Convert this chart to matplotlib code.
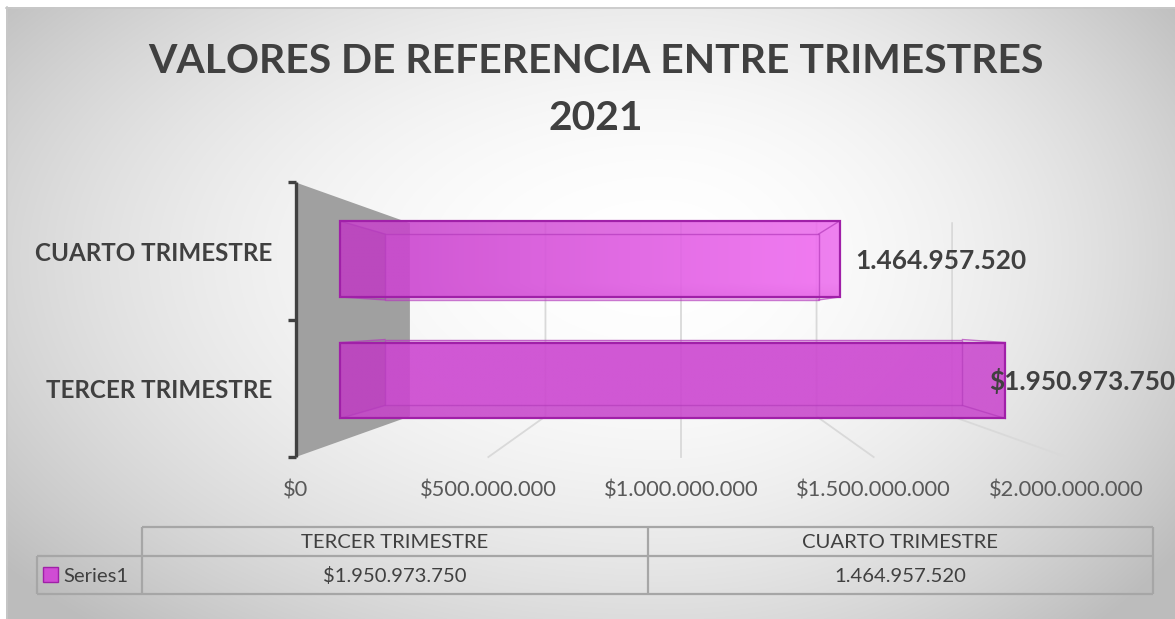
import numpy as np
import matplotlib
matplotlib.use("Agg")
import matplotlib.pyplot as plt
from matplotlib.patches import Polygon, Rectangle
from matplotlib.colors import to_rgb

# ---------------- data ----------------
categories = ["TERCER TRIMESTRE", "CUARTO TRIMESTRE"]
values = [1950973750, 1464957520]
value_labels = ["$1.950.973.750", "1.464.957.520"]
tick_values = [0, 500000000, 1000000000, 1500000000, 2000000000]
tick_labels = ["$0", "$500.000.000", "$1.000.000.000", "$1.500.000.000", "$2.000.000.000"]
title_lines = ["VALORES DE REFERENCIA ENTRE TRIMESTRES", "2021"]
series_name = "Series1"

# ---------------- style / layout ----------------
W, H, DPI = 1175, 619, 100
FONT = ["Lato", "DejaVu Sans"]
DARK = "#404040"
MID = "#595959"
plt.rcParams["font.family"] = FONT

fig = plt.figure(figsize=(W / DPI, H / DPI), dpi=DPI)

# background axes in pixel coordinates (y down)
bg = fig.add_axes([0, 0, 1, 1], zorder=0)
bg.set_axis_off()
yy, xx = np.mgrid[0:H, 0:W] + 0.5
cx, cy = 660, 255
rx = np.where(xx < cx, 780, 600)
ry = np.where(yy < cy, 420, 470)
d2 = ((xx - cx) / rx) ** 2 + ((yy - cy) / ry) ** 2
g = (255 - 58 * np.clip(d2, 0, 1.15)) / 255
img = np.dstack([g, g, g])
img[:7, :, :] = 1
img[:, :6, :] = 1
bg.imshow(img, extent=(0, W, H, 0), aspect="auto", interpolation="bilinear")
bg.plot([6, W], [7.5, 7.5], color="#c8c8c8", lw=1.2)
bg.plot([6.5, 6.5], [7, H], color="#c8c8c8", lw=1.2)

# main axes: x in dollars, y in category units, mapped to match the picture
ax = fig.add_axes([0, 0, 1, 1], zorder=1)
ax.set_axis_off()
ax.patch.set_visible(False)
X0_PX, X_SCALE = 340.0, 341e-9
Y0_PX, Y_SCALE = 380.5, 121.5
XLIM = (-X0_PX / X_SCALE, (W - X0_PX) / X_SCALE)
YLIM = ((Y0_PX - H) / Y_SCALE, Y0_PX / Y_SCALE)

# simple perspective: depth factor k scales toward a vanishing point
CX, CY = 1e9, 0.5
K_FLOOR, K_FRONT, K_BACK, K_WALL = 1.13, 1.0, 0.868, 0.795
HALF = 0.3125
ylo, yhi = -0.5, len(categories) - 0.5


def proj(v, y, k):
    return (CX + (v - CX) * k, CY + (y - CY) * k)


# side wall
wall = [proj(0, ylo, K_FLOOR), proj(0, yhi, K_FLOOR), proj(0, yhi, K_WALL), proj(0, ylo, K_WALL)]
ax.add_patch(Polygon(wall, closed=True, fc="#a0a0a0", ec="none", zorder=2))

# gridlines on back wall + floor
for t in tick_values[1:]:
    xb, yb0 = proj(t, ylo, K_WALL)
    _, yb1 = proj(t, yhi, K_WALL)
    xf, yf = proj(t, ylo, K_FLOOR)
    ax.plot([xb, xb, xf], [yb1, yb0, yf], color="#d9d9d9", lw=1.3, zorder=3)

# bars
base = np.array(to_rgb("#cc46d0"))
light = np.array(to_rgb("#f472f4"))
EDGE = "#a020a8"
for i, v in enumerate(values):
    y0, y1 = i - HALF, i + HALF
    F = [proj(0, y0, K_FRONT), proj(v, y0, K_FRONT), proj(v, y1, K_FRONT), proj(0, y1, K_FRONT)]
    B = [proj(0, y0, K_BACK), proj(v, y0, K_BACK), proj(v, y1, K_BACK), proj(0, y1, K_BACK)]
    # back face
    ax.add_patch(Polygon(B, closed=True, fc="#d050d4", ec="none", alpha=0.35, zorder=4))
    # front face with gradient
    xs = np.linspace(0, v, 200)
    ys = np.linspace(y0, y1, 40)
    wx = np.clip((xs - 0.2e9) / 1.3e9, 0, 1)
    wy = np.clip((ys - 0.3) / 0.5, 0, 1)
    w = wy[:, None] * wx[None, :]
    grad = base[None, None, :] + (light - base)[None, None, :] * w[:, :, None]
    ax.imshow(grad, extent=(0, v, y0, y1), origin="lower", aspect="auto",
              alpha=0.85, zorder=5, interpolation="bilinear")
    # side faces (shading)
    faces = {
        "left": ([F[0], F[3], B[3], B[0]], 0.16),
        "bottom": ([F[0], F[1], B[1], B[0]], 0.06),
        "top": ([F[3], F[2], B[2], B[3]], 0.04),
        "right": ([F[1], F[2], B[2], B[1]], 0.04),
    }
    for pts, a in faces.values():
        ax.add_patch(Polygon(pts, closed=True, fc="#8a108f", ec="none", alpha=a, zorder=6))
    # edges
    ax.add_patch(Polygon(B, closed=True, fc="none", ec="#b43cbc", lw=1.0, alpha=0.7, zorder=7))
    for p, q in zip(F, B):
        ax.plot([p[0], q[0]], [p[1], q[1]], color="#b43cbc", lw=1.0, alpha=0.7, zorder=7)
    ax.add_patch(Polygon(F, closed=True, fc="none", ec=EDGE, lw=1.6, zorder=8))

# vertical axis line with ticks
xa, ya0 = proj(0, ylo, K_FLOOR)
_, ya1 = proj(0, yhi, K_FLOOR)
ax.plot([xa, xa], [ya0, ya1], color=DARK, lw=2.4, solid_capstyle="butt", zorder=9)
tick_ys = [proj(0, b, K_FLOOR)[1] for b in np.arange(ylo, yhi + 0.01, 1.0)]
ax.plot([xa] * len(tick_ys), tick_ys, ls="none", marker=0, ms=6, mew=2.4,
        color=DARK, zorder=9)

# category labels
cat_texts = []
for i, c in enumerate(categories):
    p = proj(0, i, K_FLOOR)
    t = ax.annotate(c, xy=p, xytext=(-23, -10), textcoords="offset pixels",
                    ha="right", va="baseline", fontsize=16, fontweight="bold",
                    color=DARK, zorder=10)
    cat_texts.append(t)

# x tick labels on floor front edge
tick_texts = []
for tv, tl in zip(tick_values, tick_labels):
    p = proj(tv, ylo, K_FLOOR)
    t = ax.annotate(tl, xy=p, xytext=(0, -39), textcoords="offset pixels",
                    ha="center", va="baseline", fontsize=13, color=MID, zorder=10)
    tick_texts.append(t)

# value labels
label_dx = [-16, 16]
val_texts = []
for i, (v, lab) in enumerate(zip(values, value_labels)):
    t = ax.annotate(lab, xy=(v, i), xytext=(label_dx[i], -10), textcoords="offset pixels",
                    ha="left", va="baseline", fontsize=18, fontweight="bold",
                    color=DARK, zorder=10, annotation_clip=False)
    val_texts.append(t)

# title (pixel coordinates on background axes)
title_texts = [
    bg.text(595.5, 73, title_lines[0], ha="center", va="baseline", fontsize=30,
            fontweight="bold", color=DARK, zorder=5),
    bg.text(595.5, 130, title_lines[1], ha="center", va="baseline", fontsize=30,
            fontweight="bold", color=DARK, zorder=5),
]

# data table
col_edges = [142, 648, 1153]
row_edges = [527, 556, 594]
legend_left = 37
LC = dict(color="#a6a6a6", lw=1.6, zorder=4, solid_capstyle="butt")
bg.plot([col_edges[0], col_edges[-1]], [row_edges[0]] * 2, **LC)
bg.plot([legend_left, col_edges[-1]], [row_edges[1]] * 2, **LC)
bg.plot([legend_left, col_edges[-1]], [row_edges[2]] * 2, **LC)
bg.plot([legend_left] * 2, [row_edges[1], row_edges[2]], **LC)
for cxe in col_edges:
    bg.plot([cxe] * 2, [row_edges[0], row_edges[2]], **LC)
table_texts = []
for j, c in enumerate(categories):
    xc = (col_edges[j] + col_edges[j + 1]) / 2
    table_texts.append(bg.text(xc, 548, c, ha="center", va="baseline", fontsize=13,
                               color=DARK, zorder=5))
    table_texts.append(bg.text(xc, 582, value_labels[j], ha="center", va="baseline",
                               fontsize=13, color=DARK, zorder=5))
bg.add_patch(Rectangle((43, 567), 15, 15, fc="#d04cd4", ec=EDGE, lw=1.0, zorder=5))
table_texts.append(bg.text(63, 582, series_name, ha="left", va="baseline", fontsize=13,
                           color=DARK, zorder=5))

bg.set_xlim(0, W)
bg.set_ylim(H, 0)
ax.set_xlim(*XLIM)
ax.set_ylim(*YLIM)

# fit font sizes to the measured text widths of the reference
renderer = fig.canvas.get_renderer()


def fit(texts, ref, target_px):
    for _ in range(3):
        w = ref.get_window_extent(renderer).width
        s = ref.get_fontsize() * target_px / w
        for tt in texts:
            tt.set_fontsize(s)


fit(title_texts, title_texts[0], 895)
fit(cat_texts, cat_texts[1], 236)
fit(tick_texts, tick_texts[2], 154)
fit(val_texts, val_texts[1], 171)
fit(table_texts, table_texts[0], 187)

fig.savefig("out.png", dpi=DPI)
